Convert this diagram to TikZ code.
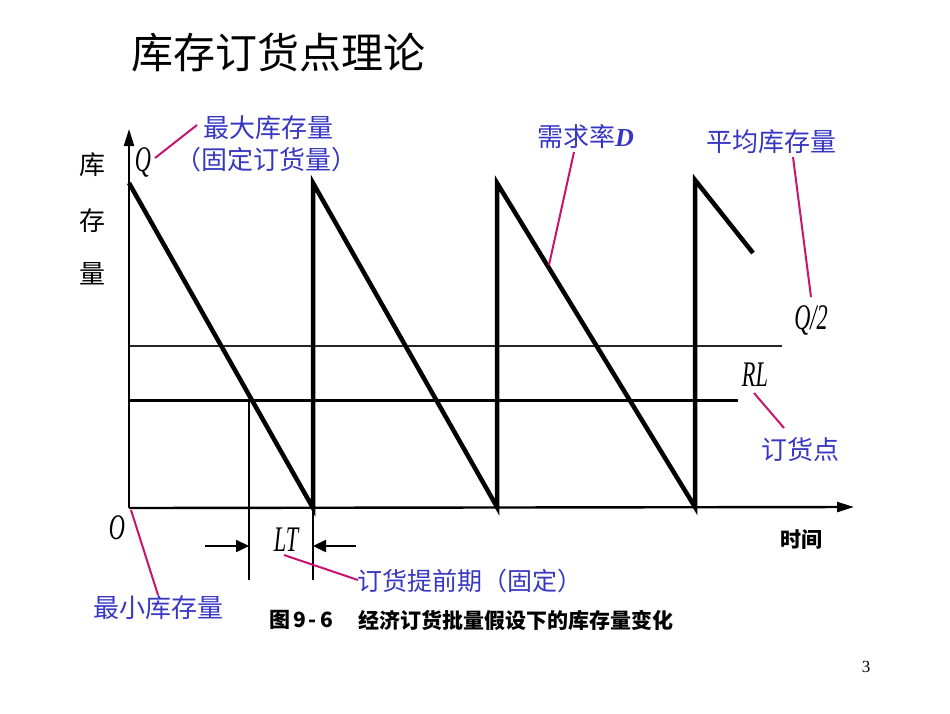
\documentclass[tikz,border=0pt]{standalone}
\usepackage{fontspec}
\setmainfont{Liberation Serif}
\newfontfamily\cjk{Noto Sans CJK SC}
\newfontfamily\tms{Liberation Serif}
\usetikzlibrary{arrows.meta}
\definecolor{lblue}{RGB}{55,55,195}
\definecolor{lmag}{RGB}{200,20,110}
\tikzset{
  axis/.style={line width=2.4pt,-{Triangle[length=17pt,width=10pt]}},
  saw/.style={line width=4.5pt,line join=miter,line cap=butt},
  thinv/.style={line width=2.4pt},
  ltarrow/.style={line width=2.4pt,-{Triangle[length=13pt,width=12pt]}},
  pointer/.style={draw=lmag,line width=2pt},
  bluelbl/.style={text=lblue,inner sep=0pt,font=\cjk\fontsize{26}{30}\selectfont},
  blklbl/.style={text=black,inner sep=0pt,font=\cjk\fontsize{26}{30}\selectfont},
  ital/.style={inner sep=0pt,font=\tms\itshape\fontsize{36}{40}\selectfont,xscale=0.62},
}
\begin{document}
\begin{tikzpicture}[x=1pt,y=-1pt]
\useasboundingbox[fill=white] (0,0) rectangle (950,713);
% key points
\coordinate (O) at (129,508);
\coordinate (ytip) at (129,129);
\coordinate (xtip) at (854,507);
\coordinate (p1) at (129,183);
\coordinate (b1) at (313,508);
\coordinate (p2) at (313,183);
\coordinate (b2) at (497,507);
\coordinate (p3) at (497,183);
\coordinate (b3) at (695,507);
\coordinate (p4) at (695,180);
\coordinate (e4) at (753,253);
\coordinate (hq1) at (129,346);
\coordinate (hq2) at (782,346);
\coordinate (rl1) at (129,400);
\coordinate (rl2) at (738,400);
\coordinate (v1t) at (249,400);
\coordinate (v1b) at (249,580);
\coordinate (v2b) at (313,580);
\coordinate (la1) at (205,546);
\coordinate (la2) at (249,546);
\coordinate (ra1) at (356,546);
\coordinate (ra2) at (313,546);
% reference lines
\draw[line width=1.4pt,black!85] (hq1) -- (hq2);
\draw[line width=3pt] (rl1) -- (rl2);
% axes
\draw[axis] (O) -- (ytip);
\draw[axis] (O) -- (xtip);
% sawtooth
\draw[saw] (p1) -- (b1) -- (p2) -- (b2) -- (p3) -- (b3) -- (p4) -- (e4);
% lead time
\draw[thinv] (v1t) -- (v1b);
\draw[thinv] (b1) -- (v2b);
\draw[ltarrow] (la1) -- (la2);
\draw[ltarrow] (ra1) -- (ra2);
% title
\node[inner sep=0pt,anchor=west,font=\cjk\fontsize{42}{48}\selectfont] (title) at (131,53) {库存订货点理论};
% axis labels
\node[blklbl] (ku) at (92,165) {库};
\node[blklbl] (cun) at (92,221) {存};
\node[blklbl] (liang) at (92,274) {量};
\node[inner sep=0pt,font=\cjk\bfseries\fontsize{21}{24}\selectfont] (time) at (801,540) {时间};
% italic symbols
\node[ital] (Q) at (143,162) {Q};
\node[ital] (zero) at (117,528) {O};
\node[ital] (LT) at (286,540) {LT};
\node[ital] (RL) at (755,375) {RL};
\node[ital] (Q2) at (811,320) {Q/2};
% blue labels
\node[bluelbl,anchor=west] (maxs) at (203,128) {最大库存量};
\node[bluelbl] (fixq) at (266,160) {（固定订货量）};
\node[bluelbl,anchor=west] (demand) at (537,137) {需求率{\tms\bfseries\itshape D}};
\node[bluelbl] (avg) at (771,142) {平均库存量};
\node[bluelbl] (rop) at (800,450) {订货点};
\node[bluelbl,anchor=west,font=\cjk\fontsize{25}{30}\selectfont] (lead) at (357,581) {订货提前期（固定）};
\node[bluelbl,anchor=west] (mins) at (93,608) {最小库存量};
% caption
\node[inner sep=0pt,anchor=west,font=\cjk\bfseries\fontsize{21}{26}\selectfont] (cap1) at (269,620) {图\hspace{3pt}9\hspace{3pt}-\hspace{3pt}6};
\node[inner sep=0pt,anchor=west,font=\cjk\bfseries\fontsize{21}{26}\selectfont] (cap2) at (358,620) {经济订货批量假设下的库存量变化};
% page number
\node[inner sep=0pt,font=\tms\fontsize{17}{20}\selectfont] (page) at (866,667) {3};
% pointer lines
\coordinate (m1a) at (155,158); \coordinate (m1b) at (197,125);
\coordinate (m2a) at (131,510); \coordinate (m2b) at (158,595);
\coordinate (m3a) at (284,555); \coordinate (m3b) at (358,580);
\coordinate (m4a) at (574,152); \coordinate (m4b) at (549,265);
\coordinate (m5a) at (793,157); \coordinate (m5b) at (811,297);
\coordinate (m6a) at (754,393); \coordinate (m6b) at (784,428);
\draw[pointer] (m1a) -- (m1b);
\draw[pointer] (m2a) -- (m2b);
\draw[pointer] (m3a) -- (m3b);
\draw[pointer] (m4a) -- (m4b);
\draw[pointer] (m5a) -- (m5b);
\draw[pointer] (m6a) -- (m6b);
\end{tikzpicture}
\end{document}
